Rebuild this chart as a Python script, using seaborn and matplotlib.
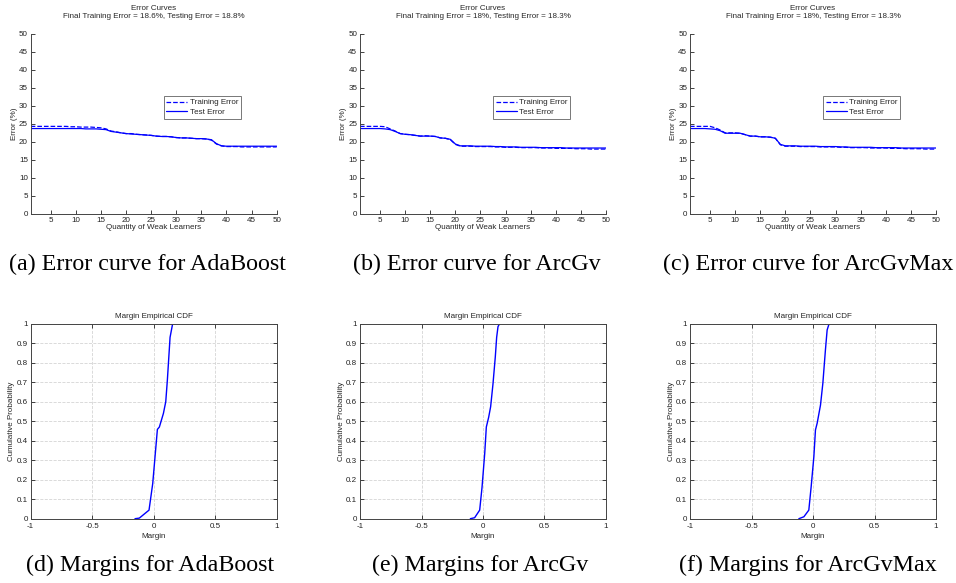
import numpy as np
import pandas as pd
import seaborn as sns
import matplotlib.pyplot as plt

# --- error curves (percent) for 1..50 weak learners ---
learners = list(range(1, 51))

train_ada = [24.3, 24.3, 24.3, 24.3, 24.3, 24.3, 24.3, 24.3, 24.2, 24.2,
             24.1, 24.1, 24.1, 24.0, 23.9, 23.6, 23.0, 22.8, 22.5, 22.3,
             22.3, 22.1, 22.0, 21.9, 21.8, 21.6, 21.5, 21.5, 21.4, 21.2,
             21.1, 21.1, 21.0, 20.9, 20.9, 20.8, 20.5, 19.4, 18.9, 18.7,
             18.7, 18.7, 18.6, 18.6, 18.6, 18.6, 18.6, 18.6, 18.6, 18.6]
test_ada = [23.7, 23.7, 23.7, 23.7, 23.7, 23.7, 23.7, 23.7, 23.7, 23.7,
            23.7, 23.6, 23.6, 23.6, 23.5, 23.4, 22.9, 22.7, 22.5, 22.3,
            22.2, 22.1, 22.0, 21.9, 21.8, 21.6, 21.5, 21.5, 21.4, 21.2,
            21.1, 21.1, 21.0, 20.9, 20.9, 20.8, 20.6, 19.5, 18.9, 18.8,
            18.8, 18.8, 18.8, 18.8, 18.8, 18.8, 18.8, 18.8, 18.8, 18.8]

train_arc = [24.3, 24.3, 24.3, 24.3, 24.3, 24.2, 23.6, 23.0, 22.3, 22.1,
             22.0, 21.8, 21.6, 21.7, 21.6, 21.5, 21.1, 21.0, 20.6, 19.3,
             18.8, 18.8, 18.8, 18.7, 18.7, 18.7, 18.7, 18.6, 18.6, 18.5,
             18.5, 18.5, 18.4, 18.4, 18.4, 18.4, 18.3, 18.3, 18.3, 18.2,
             18.2, 18.2, 18.2, 18.1, 18.1, 18.1, 18.0, 18.0, 18.0, 18.0]
test_arc = [23.7, 23.7, 23.7, 23.7, 23.7, 23.6, 23.4, 22.9, 22.3, 22.1,
            22.0, 21.8, 21.6, 21.6, 21.6, 21.5, 21.1, 21.0, 20.7, 19.4,
            18.9, 18.9, 18.9, 18.8, 18.8, 18.8, 18.8, 18.7, 18.7, 18.6,
            18.6, 18.6, 18.5, 18.5, 18.5, 18.5, 18.4, 18.4, 18.4, 18.4,
            18.4, 18.3, 18.3, 18.3, 18.3, 18.3, 18.3, 18.3, 18.3, 18.3]

train_max = [24.3, 24.3, 24.3, 24.3, 24.3, 23.9, 23.3, 22.5, 22.5, 22.5,
             22.4, 22.0, 21.6, 21.6, 21.4, 21.4, 21.3, 21.0, 19.2, 18.8,
             18.8, 18.8, 18.7, 18.7, 18.7, 18.7, 18.6, 18.6, 18.6, 18.6,
             18.5, 18.5, 18.4, 18.4, 18.4, 18.4, 18.3, 18.3, 18.3, 18.3,
             18.2, 18.2, 18.2, 18.1, 18.1, 18.1, 18.1, 18.0, 18.0, 18.0]
test_max = [23.7, 23.7, 23.7, 23.7, 23.6, 23.5, 23.1, 22.4, 22.4, 22.4,
            22.4, 22.0, 21.6, 21.6, 21.4, 21.4, 21.3, 21.0, 19.3, 18.9,
            18.9, 18.9, 18.8, 18.8, 18.8, 18.8, 18.7, 18.7, 18.7, 18.7,
            18.6, 18.6, 18.5, 18.5, 18.5, 18.5, 18.5, 18.4, 18.4, 18.4,
            18.4, 18.4, 18.3, 18.3, 18.3, 18.3, 18.3, 18.3, 18.3, 18.3]

# --- margin empirical CDFs ---
margin_ada = [-0.152, -0.117, -0.038, -0.008, 0.030, 0.046, 0.079, 0.098, 0.111, 0.133, 0.154]
cdf_ada = [0.0, 0.003, 0.044, 0.18, 0.458, 0.47, 0.54, 0.60, 0.71, 0.93, 1.0]

margin_arc = [-0.103, -0.068, -0.027, -0.008, 0.014, 0.027, 0.046, 0.062, 0.081, 0.100, 0.111, 0.122, 0.135]
cdf_arc = [0.0, 0.005, 0.044, 0.16, 0.335, 0.47, 0.52, 0.574, 0.69, 0.83, 0.93, 0.985, 1.0]

margin_max = [-0.115, -0.074, -0.034, -0.015, 0.007, 0.020, 0.034, 0.061, 0.080, 0.101, 0.115, 0.131]
cdf_max = [0.0, 0.01, 0.044, 0.164, 0.318, 0.455, 0.49, 0.583, 0.694, 0.865, 0.968, 1.0]

final_text = ["Final Training Error = 18.6%, Testing Error = 18.8%",
              "Final Training Error = 18%, Testing Error = 18.3%",
              "Final Training Error = 18%, Testing Error = 18.3%"]
top_captions = ["(a) Error curve for AdaBoost", "(b) Error curve for ArcGv",
                "(c) Error curve for ArcGvMax"]
bottom_captions = ["(d) Margins for AdaBoost", "(e) Margins for ArcGv",
                   "(f) Margins for ArcGvMax"]

sns.set_theme(style="white")
plt.rcParams['font.family'] = ['Liberation Sans', 'DejaVu Sans']

W, H = 956, 583
fig = plt.figure(figsize=(W / 100, H / 100), dpi=100)

lefts = [30.7, 360, 690]
ax_w = 246
fs = 5.8
edge = '#444444'


def style_axes(ax, box):
    ax.tick_params(direction='in', length=3, width=0.6, labelsize=fs,
                   colors='#222222', pad=2,
                   top=box, right=box, bottom=True, left=True)
    for side in ['left', 'bottom', 'top', 'right']:
        ax.spines[side].set_color(edge)
        ax.spines[side].set_linewidth(0.7)
        ax.spines[side].set_visible(box or side in ('left', 'bottom'))


curves = [(train_ada, test_ada), (train_arc, test_arc), (train_max, test_max)]
for i, (tr, te) in enumerate(curves):
    ax = fig.add_axes([lefts[i] / W, 1 - 214 / H, ax_w / W, 180.3 / H])
    df = pd.DataFrame({"learners": learners, "train": tr, "test": te})
    sns.lineplot(data=df, x="learners", y="train", ax=ax, color='blue',
                 linestyle='--', linewidth=0.9, label='Training Error')
    sns.lineplot(data=df, x="learners", y="test", ax=ax, color='blue',
                 linestyle='-', linewidth=0.9, label='Test Error')
    ax.set_xlim(1, 50)
    ax.set_ylim(0, 50)
    ax.set_xticks(range(5, 51, 5))
    ax.set_yticks(range(0, 51, 5))
    ax.set_xlabel("Quantity of Weak Learners", fontsize=fs, labelpad=0.5)
    ax.set_ylabel("Error (%)", fontsize=fs, labelpad=1)
    ax.set_title("Error Curves\n" + final_text[i], fontsize=fs,
                 linespacing=1.3, pad=11)
    style_axes(ax, False)
    leg = ax.legend(loc='upper left', bbox_to_anchor=(0.54, 0.655),
                    fontsize=fs, frameon=True, fancybox=False,
                    handlelength=2.6, borderpad=0.35, labelspacing=0.25,
                    handletextpad=0.3, borderaxespad=0)
    leg.get_frame().set_edgecolor('#555555')
    leg.get_frame().set_linewidth(0.7)

cdfs = [(margin_ada, cdf_ada), (margin_arc, cdf_arc), (margin_max, cdf_max)]
for i, (m, c) in enumerate(cdfs):
    ax = fig.add_axes([lefts[i] / W, 1 - 518.7 / H, ax_w / W, 195 / H])
    df = pd.DataFrame({"margin": m, "cdf": c})
    sns.lineplot(data=df, x="margin", y="cdf", ax=ax, color='blue',
                 linewidth=1.0, sort=False)
    ax.set_xlim(-1, 1)
    ax.set_ylim(0, 1)
    ax.set_xticks([-1, -0.5, 0, 0.5, 1])
    ax.set_xticklabels(["-1", "-0.5", "0", "0.5", "1"])
    ax.set_yticks(np.arange(0, 1.01, 0.1))
    ax.set_yticklabels(["0"] + [f"{v:.1f}" for v in np.arange(0.1, 0.95, 0.1)] + ["1"])
    ax.grid(True, linestyle='--', color='#d5d5d5', linewidth=0.6)
    ax.set_xlabel("Margin", fontsize=fs, labelpad=2.5)
    ax.set_ylabel("Cumulative Probability", fontsize=fs, labelpad=1)
    ax.set_title("Margin Empirical CDF", fontsize=fs, pad=4)
    style_axes(ax, True)
    ax.tick_params(axis='x', pad=3)

top_x = [147, 477, 808]
bottom_x = [150, 480, 808]
for i in range(3):
    fig.text(top_x[i] / W, 1 - 264 / H, top_captions[i], ha='center',
             va='center', fontsize=17.3, family='Liberation Serif', color='black')
    fig.text(bottom_x[i] / W, 1 - 565 / H, bottom_captions[i], ha='center',
             va='center', fontsize=17.3, family='Liberation Serif', color='black')

fig.savefig("out.png", dpi=100)
